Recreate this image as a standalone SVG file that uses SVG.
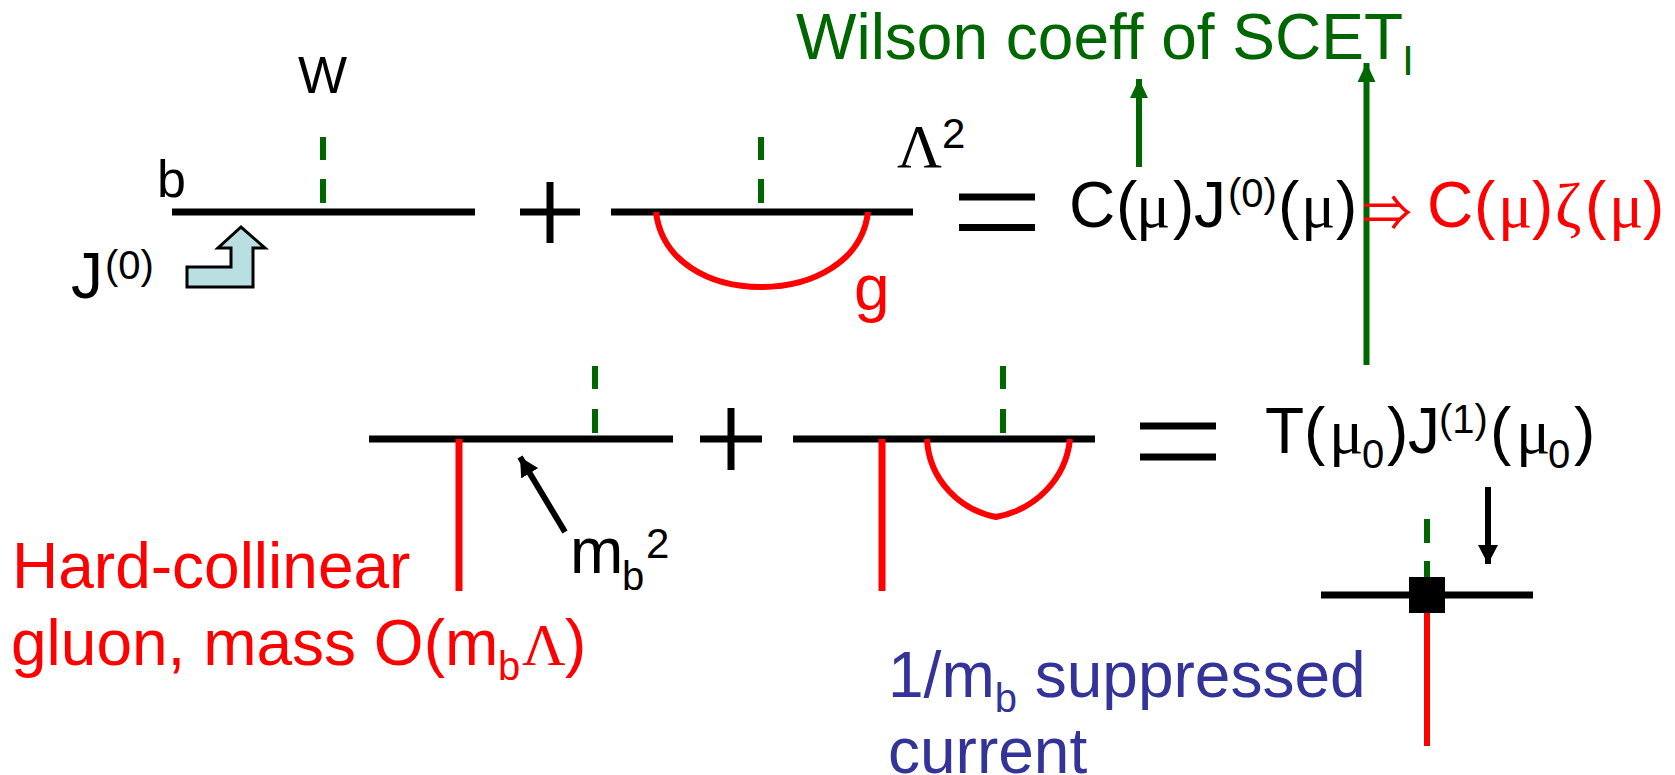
<svg xmlns="http://www.w3.org/2000/svg" width="1675" height="775" viewBox="0 0 1675 775">
<style>
text{font-family:"Liberation Sans",Arial,sans-serif;font-size:64px;fill:#000}
.sym{font-family:"Liberation Serif","DejaVu Serif",serif}
.sup{font-size:40px}
.red{fill:#f00}.grn{fill:#060}.blu{fill:#339}
.bk{stroke:#000;stroke-width:7;fill:none}
.rd{stroke:#f00;stroke-width:6;fill:none}
.gd{stroke:#060;stroke-width:6;fill:none}
</style>
<defs>
<marker id="ga" markerUnits="userSpaceOnUse" markerWidth="19" markerHeight="18" refX="19" refY="9" orient="auto"><path d="M0 0L19 9L0 18Z" fill="#060"/></marker>
<marker id="ka" markerUnits="userSpaceOnUse" markerWidth="19" markerHeight="20" refX="19" refY="10" orient="auto"><path d="M0 0L19 10L0 20Z" fill="#000"/></marker>
</defs>
<g id="connectors">
<path class="gd" d="M1139 167V79" marker-end="url(#ga)"/>
<path class="gd" d="M1366.500 365V63" marker-end="url(#ga)"/>
<path class="bk" style="stroke-width:6" d="M565 532L520 457" marker-end="url(#ka)"/>
<path class="bk" style="stroke-width:6" d="M1488 487V564" marker-end="url(#ka)"/>
</g>
<g id="diagram-1">
<path class="gd" d="M323 137V160M323 179V203"/>
<path class="bk" d="M172 212H475"/>
<text x="298" y="93" style="font-size:52px">W</text>
<text x="157" y="197" style="font-size:52px">b</text>
<text x="71" y="298">J</text>
<text x="105" y="279" class="sup">(0)</text>
<path d="M187 287V267H231V248H218L241 227L265 248H253V287Z" fill="#b9dfe2" stroke="#000" stroke-width="3"/>
</g>
<g id="plus-1"><path class="bk" d="M520 212H580M550 182V243"/></g>
<g id="diagram-2">
<path class="gd" d="M761 137V160M761 179V203"/>
<path class="bk" d="M611 212H913"/>
<path class="rd" d="M656 212C662 262 710 287 761 287C812 287 862 262 868 212"/>
<text x="854" y="310" class="red">g</text>
<text x="897" y="167" class="sym" style="font-size:62px">Λ</text>
<text x="942" y="148" style="font-size:42px">2</text>
</g>
<g id="eq-1"><path class="bk" d="M959 197H1035M959 227.500H1035"/></g>
<g id="term-1">
<text y="227"><tspan x="1069">C</tspan><tspan x="1116">(</tspan><tspan x="1136" class="sym">μ</tspan><tspan x="1173">)</tspan><tspan x="1194">J</tspan><tspan x="1278">(</tspan><tspan x="1301" class="sym">μ</tspan><tspan x="1336">)</tspan></text>
<text x="1228" y="207" class="sup">(0)</text>
</g>
<g id="implies"><text x="1362" y="231" class="red" style="font-family:'Noto Sans CJK JP','DejaVu Sans',sans-serif;font-size:50px">⇒</text></g>
<g id="term-2">
<text y="227" class="red"><tspan x="1427">C</tspan><tspan x="1474">(</tspan><tspan x="1498" class="sym">μ</tspan><tspan x="1532">)</tspan><tspan x="1555" class="sym">ζ</tspan><tspan x="1585">(</tspan><tspan x="1609" class="sym">μ</tspan><tspan x="1643">)</tspan></text>
</g>
<g id="wilson">
<text x="796" y="59" class="grn">Wilson coeff of SCET</text>
<text x="1402" y="75" class="grn" style="font-size:43px">I</text>
</g>
<g id="diagram-3">
<path class="gd" d="M595 366V389M595 409V433"/>
<path class="bk" d="M369 439H673"/>
<path class="rd" style="stroke-width:7" d="M459 439V591"/>
<text x="570" y="573">m</text>
<text x="622" y="590" class="sup">b</text>
<text x="646" y="558" style="font-size:42px">2</text>
</g>
<g id="plus-2"><path class="bk" d="M700 439H762M731 408V470"/></g>
<g id="diagram-4">
<path class="gd" d="M1003 366V389M1003 409V433"/>
<path class="bk" d="M793 439H1095"/>
<path class="rd" style="stroke-width:7" d="M882 439V591"/>
<path class="rd" d="M927 439C929 480 960 510 996 517C1034 510 1066 480 1070 439"/>
</g>
<g id="eq-2"><path class="bk" d="M1140 426H1216M1140 457H1216"/></g>
<g id="term-3">
<text y="453"><tspan x="1265">T</tspan><tspan x="1304">(</tspan><tspan x="1329" class="sym">μ</tspan><tspan x="1387">)</tspan><tspan x="1408">J</tspan><tspan x="1490">(</tspan><tspan x="1516" class="sym">μ</tspan><tspan x="1574">)</tspan></text>
<text x="1362" y="468" class="sup">0</text>
<text x="1439" y="433" class="sup">(1)</text>
<text x="1548" y="468" class="sup">0</text>
</g>
<g id="vertex">
<path class="gd" d="M1427 519V543M1427 561V580"/>
<path class="bk" d="M1321 595H1533"/>
<path class="rd" d="M1427 610V746"/>
<rect x="1409" y="577" width="36" height="36" fill="#000"/>
</g>
<g id="label-hard">
<text x="12" y="588" class="red">Hard-collinear</text>
<text y="665" class="red"><tspan x="11">gluon, mass O(m</tspan><tspan x="565">)</tspan></text>
<text x="498" y="680" class="red sup">b</text>
<text x="522" y="665" class="red sym" style="font-size:60px">Λ</text>
</g>
<g id="label-current">
<text x="888" y="697" class="blu">1/m<tspan class="sup" dy="15">b</tspan><tspan dy="-15"> suppressed</tspan></text>
<text x="888" y="773" class="blu">current</text>
</g>
</svg>
